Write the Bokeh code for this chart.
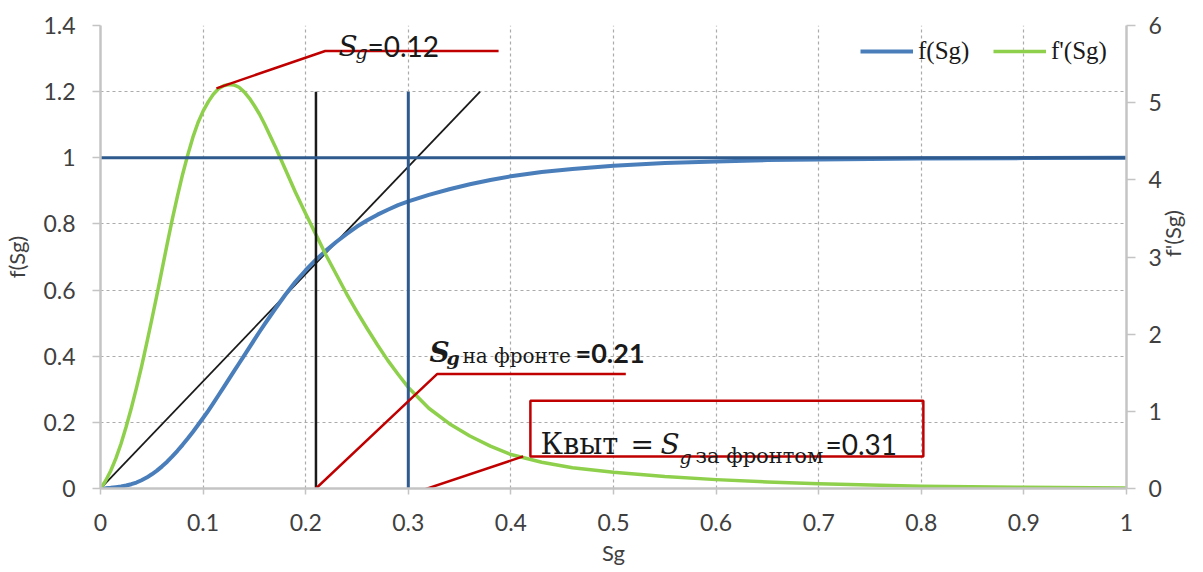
import math
from bokeh.plotting import figure
from bokeh.models import (LinearAxis, Range1d, FixedTicker, Legend, LegendItem, Label)
from bokeh.embed import file_html
from bokeh.resources import INLINE

# ---------------- data ----------------
sg = [0, 0.005, 0.01, 0.015, 0.02, 0.025, 0.03, 0.035, 0.04, 0.045,
      0.05, 0.055, 0.06, 0.065, 0.07, 0.075, 0.08, 0.085, 0.09, 0.095,
      0.10, 0.105, 0.11, 0.115, 0.12, 0.125, 0.13, 0.135, 0.14, 0.145,
      0.15, 0.155, 0.16, 0.17, 0.18, 0.19,
      0.20, 0.21, 0.22, 0.23, 0.24, 0.25, 0.26, 0.27, 0.28, 0.29,
      0.30, 0.32, 0.34, 0.36, 0.38, 0.40, 0.43, 0.46, 0.50, 0.55,
      0.60, 0.65, 0.70, 0.80, 0.90, 1.0]
f_sg = [0, 0.0005, 0.002, 0.004, 0.006, 0.009, 0.013, 0.018, 0.025, 0.033,
        0.043, 0.054, 0.067, 0.081, 0.097, 0.114, 0.132, 0.151, 0.171, 0.192,
        0.213, 0.235, 0.258, 0.282, 0.306, 0.330, 0.354, 0.378, 0.402, 0.426,
        0.450, 0.474, 0.497, 0.542, 0.585, 0.625,
        0.660, 0.692, 0.720, 0.746, 0.770, 0.792, 0.811, 0.828, 0.843, 0.857,
        0.868, 0.888, 0.905, 0.920, 0.933, 0.944, 0.957, 0.966, 0.976, 0.984,
        0.989, 0.993, 0.995, 0.998, 0.999, 1.0]
fprime_sg = [0, 0.10, 0.23, 0.39, 0.58, 0.80, 1.04, 1.30, 1.58, 1.88,
             2.19, 2.51, 2.84, 3.17, 3.49, 3.79, 4.07, 4.32, 4.55, 4.74,
             4.89, 5.01, 5.11, 5.18, 5.22, 5.235, 5.23, 5.20, 5.14, 5.06,
             4.96, 4.85, 4.72, 4.44, 4.14, 3.84,
             3.56, 3.29, 3.02, 2.77, 2.52, 2.29, 2.07, 1.86, 1.66, 1.48,
             1.31, 1.04, 0.84, 0.68, 0.55, 0.44, 0.34, 0.27, 0.21, 0.155,
             0.115, 0.085, 0.06, 0.03, 0.015, 0.008]

tangent_x = [0, 0.37]
tangent_y = [0, 1.2]
front_x = 0.21          # black vertical line
behind_x = 0.30         # dark-blue vertical line
vline_top = 1.2
hline_y = 1.0

x_ticks = [0, 0.1, 0.2, 0.3, 0.4, 0.5, 0.6, 0.7, 0.8, 0.9, 1]
x_tick_labels = ["0", "0.1", "0.2", "0.3", "0.4", "0.5", "0.6", "0.7", "0.8", "0.9", "1"]
y_ticks = [0, 0.2, 0.4, 0.6, 0.8, 1, 1.2, 1.4]
y_tick_labels = ["0", "0.2", "0.4", "0.6", "0.8", "1", "1.2", "1.4"]
y2_ticks = [0, 1, 2, 3, 4, 5, 6]

# annotation leader lines (data units)
lead1_x = [0.113, 0.219, 0.388]
lead1_y = [1.21, 1.323, 1.323]
lead2_x = [front_x, 0.328, 0.512]
lead2_y = [0, 0.346, 0.346]
lead3_x = [0.305, 0.412]
lead3_y = [-0.014, 0.097]
box3 = dict(left=0.419, right=0.802, bottom=0.097, top=0.265)

# ---------------- styles ----------------
BLUE = "#4A7EBB"
GREEN = "#8ED04B"
DARKBLUE = "#2E5A8E"
RED = "#C00000"
GRID = "#ABABAB"
AXIS = "#C4C4C4"
TXT = "#404040"
SANS = "Lato"
SERIF = "DejaVu Serif"

p = figure(width=1202, height=568, x_range=Range1d(0, 1), y_range=Range1d(0, 1.4),
           output_backend="svg", toolbar_location=None,
           min_border_left=100, min_border_right=76, min_border_top=25, min_border_bottom=80)
p.extra_y_ranges = {"right": Range1d(0, 6)}
p.outline_line_color = None
p.background_fill_color = "white"
p.border_fill_color = "white"

for g in (p.xgrid, p.ygrid):
    g.grid_line_color = GRID
    g.grid_line_dash = "3 3"
    g.grid_line_width = 1.2

p.xaxis.ticker = FixedTicker(ticks=x_ticks)
p.xaxis.major_label_overrides = dict(zip(x_ticks, x_tick_labels))
p.yaxis.ticker = FixedTicker(ticks=y_ticks)
p.yaxis.major_label_overrides = dict(zip(y_ticks, y_tick_labels))
p.xaxis.axis_label = "Sg"
p.yaxis.axis_label = "f(Sg)"

r_axis = LinearAxis(y_range_name="right", ticker=FixedTicker(ticks=y2_ticks), axis_label="f'(Sg)")
if "axis_label_orientation" in LinearAxis.properties():
    r_axis.axis_label_orientation = math.pi / 2
p.add_layout(r_axis, "right")

for ax in (p.xaxis[0], p.yaxis[0], r_axis):
    ax.axis_line_color = AXIS
    ax.axis_line_width = 2.5
    ax.major_tick_line_color = AXIS
    ax.major_tick_line_width = 1.5
    ax.major_tick_in = 0
    ax.minor_tick_line_color = None
    ax.major_label_text_font = SANS
    ax.major_label_text_font_size = "23px"
    ax.major_label_text_color = TXT
    ax.axis_label_text_font = SANS
    ax.axis_label_text_font_size = "22px"
    ax.axis_label_text_font_style = "normal"
    ax.axis_label_text_color = TXT

p.xaxis.major_tick_out = 6
p.xaxis.major_label_standoff = 19
p.xaxis.axis_label_standoff = 5
p.yaxis.major_tick_out = 8
p.yaxis.major_label_standoff = 17
p.yaxis.axis_label_standoff = 10
r_axis.major_tick_out = 9
r_axis.major_label_standoff = 13
r_axis.axis_label_standoff = 8

# lines
p.line(tangent_x, tangent_y, line_color="#1A1A1A", line_width=1.8)
r_f = p.line(sg, f_sg, line_color=BLUE, line_width=4, line_join="round")
r_fp = p.line(sg, fprime_sg, y_range_name="right", line_color=GREEN, line_width=3.5, line_join="round")
p.line([front_x, front_x], [0, vline_top], line_color="#1A1A1A", line_width=2.5)
p.line([behind_x, behind_x], [0, vline_top], line_color=DARKBLUE, line_width=3)
p.line([0, 1], [hline_y, hline_y], line_color=DARKBLUE, line_width=3)

# red annotation leaders
p.line(lead1_x, lead1_y, line_color=RED, line_width=2.5)
p.line(lead2_x, lead2_y, line_color=RED, line_width=2.5)
p.line(lead3_x, lead3_y, line_color=RED, line_width=2.5)
p.quad(left=[box3["left"]], right=[box3["right"]], bottom=[box3["bottom"]], top=[box3["top"]],
       fill_alpha=0, line_color=RED, line_width=2.5)

def txt(x, y, text, font, size, style="normal", color="#1A1A1A"):
    p.add_layout(Label(x=x, y=y, text=text, text_font=font, text_font_size=size,
                       text_font_style=style, text_color=color, text_baseline="alphabetic",
                       text_align="left"))

# annotation 1
txt(0.232, 1.337, "S", SERIF, "28px", "italic")
txt(0.2485, 1.319, "g", SERIF, "19px", "italic")
txt(0.2602, 1.337, "=0.12", SANS, "28px")
# annotation 2
txt(0.3207, 0.411, "S", SERIF, "28px", "bold italic")
txt(0.3372, 0.396, "g", SERIF, "19px", "bold italic")
txt(0.3528, 0.402, "на фронте", SERIF, "20px")
txt(0.463, 0.411, "=0.21", SANS, "27px", "bold")
# annotation 3
txt(0.4288, 0.134, "Квыт", SERIF, "29px")
txt(0.5166, 0.134, "=", SERIF, "28px")
txt(0.5458, 0.134, "S", SERIF, "28px", "italic")
txt(0.5643, 0.0944, "g", SERIF, "19px", "italic")
txt(0.580, 0.0975, "за фронтом", SERIF, "21px")
txt(0.7066, 0.134, "=0.31", SANS, "28px")

legend = Legend(items=[LegendItem(label="f(Sg)", renderers=[r_f]),
                       LegendItem(label="f'(Sg)", renderers=[r_fp])],
                location="top_right", orientation="horizontal",
                border_line_color=None, background_fill_alpha=0,
                label_text_font="Liberation Serif", label_text_font_size="25px",
                label_text_color="#1A1A1A", label_width=63,
                glyph_width=53, glyph_height=20, label_standoff=5, spacing=12,
                padding=0, margin=12)
p.add_layout(legend)

open("out.html", "w").write(file_html(p, INLINE))
